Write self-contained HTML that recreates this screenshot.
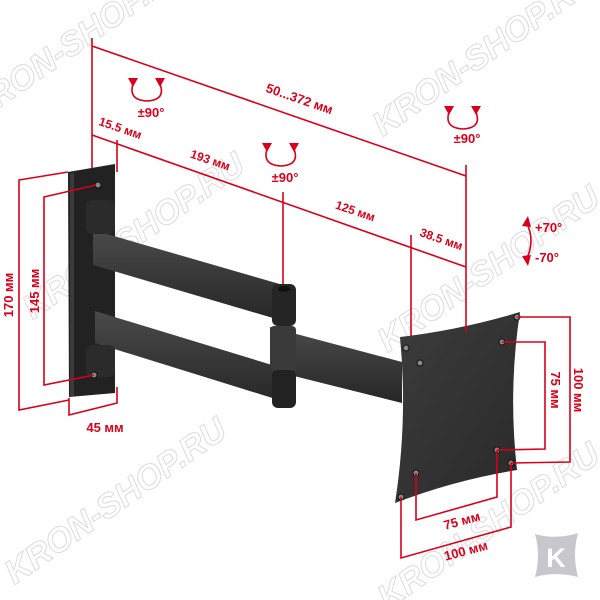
<!DOCTYPE html>
<html><head><meta charset="utf-8"><style>
html,body{margin:0;padding:0;background:#fff;}
svg{display:block;}
.r{fill:#d8001a;font-family:"Liberation Sans",sans-serif;font-weight:bold;font-size:13px;}
.w{fill:#fff;stroke:#dcdcdc;stroke-width:1;font-family:"Liberation Sans",sans-serif;font-style:italic;font-weight:bold;font-size:34px;}
</style></head><body>
<svg width="600" height="600" viewBox="0 0 600 600" xmlns="http://www.w3.org/2000/svg">
<defs>
<linearGradient id="ag" x1="0" y1="0" x2="0" y2="1"><stop offset="0" stop-color="#4a4a4a"/><stop offset="1" stop-color="#262626"/></linearGradient>
<linearGradient id="pg" x1="0" y1="0" x2="1" y2="1"><stop offset="0" stop-color="#3c3c3c"/><stop offset="1" stop-color="#2a2a2a"/></linearGradient>
</defs>
<text class="w" transform="translate(85,48) rotate(-35)" text-anchor="middle">KRON-SHOP.RU</text>
<text class="w" transform="translate(140,245) rotate(-35)" text-anchor="middle">KRON-SHOP.RU</text>
<text class="w" transform="translate(490,62) rotate(-35)" text-anchor="middle">KRON-SHOP.RU</text>
<text class="w" transform="translate(122,510) rotate(-35)" text-anchor="middle">KRON-SHOP.RU</text>
<text class="w" transform="translate(495,535) rotate(-35)" text-anchor="middle">KRON-SHOP.RU</text>
<text class="w" transform="translate(495,278) rotate(-35)" text-anchor="middle">KRON-SHOP.RU</text>

<polygon points="68,172 115,164 115,393 69,397" fill="#222"/>
<polygon points="70,174 74,173 74,396 70,396" fill="#3a3a3a"/>
<polygon points="93,230 290,287 290,323 93,265" fill="url(#ag)"/>
<rect x="86" y="200" width="29" height="34" rx="6" fill="#2b2b2b"/>
<rect x="272" y="284" width="24" height="42" rx="6" fill="#252525"/>
<ellipse cx="284" cy="289" rx="6" ry="3" fill="#111"/>
<polygon points="270,327 402,362 402,403 270,370" fill="url(#ag)"/>
<polygon points="95,311 295,372 295,405 95,343" fill="url(#ag)"/>
<rect x="86" y="345" width="29" height="32" rx="6" fill="#2b2b2b"/>
<rect x="272" y="370" width="24" height="38" rx="6" fill="#222"/>
<rect x="270" y="326" width="26" height="44" rx="4" fill="#3a3a3a"/>
<path d="M400,337 Q460,330 520,312 Q508,390 517,470 Q455,480 395,503 Q408,420 400,337 Z" fill="url(#pg)"/>
<g fill="#888" stroke="#111" stroke-width="1">
<circle cx="406" cy="348" r="3"/><circle cx="420" cy="363" r="3"/><circle cx="517" cy="317" r="3"/><circle cx="502" cy="342" r="3"/>
<circle cx="497" cy="450" r="3"/><circle cx="511" cy="463" r="3"/><circle cx="416" cy="473" r="3"/><circle cx="401" cy="497" r="3"/>
<circle cx="98" cy="185" r="3"/><circle cx="94" cy="375" r="3"/>
</g>

<g stroke="#d8001a" stroke-width="1.6" fill="none">
<line x1="92" y1="38" x2="92" y2="168"/>
<line x1="92" y1="46" x2="466" y2="176"/>
<line x1="92" y1="135" x2="466" y2="267"/>
<line x1="466" y1="165" x2="466" y2="332"/>
<line x1="117" y1="140" x2="117" y2="172"/>
<line x1="283" y1="192" x2="283" y2="284"/>
<line x1="411" y1="235" x2="411" y2="336"/>
<polyline points="68,172 19,180 19,410 69,400"/>
<polyline points="96,185 44,197 44,385 94,375"/>
<polyline points="69,398 69,415 117,403 117,387"/>
<polyline points="517,317 570,317 570,462 511,463"/>
<polyline points="502,342 545,342 545,449 497,450"/>
<polyline points="416,473 416,520 497,497 497,450"/>
<polyline points="401,497 401,558 511,527 511,463"/>
<path d="M133,84 Q128,100 147,101 Q166,100 160,84"/>
<path d="M267,149 Q262,165 281,166 Q300,165 294,149"/>
<path d="M449,112 Q444,128 463,129 Q482,128 476,112"/>
<path d="M526,222 Q536,240 526,260"/>
</g>
<g fill="#d8001a">
<polygon points="128,78 138,78 133,87"/><polygon points="155,78 165,78 160,87"/>
<polygon points="262,143 272,143 267,152"/><polygon points="289,143 299,143 294,152"/>
<polygon points="444,106 454,106 449,115"/><polygon points="471,106 481,106 476,115"/>
<polygon points="522,226 528,216 531,227"/><polygon points="522,256 528,266 531,255"/>
</g>

<text class="r" transform="translate(298,103) rotate(19)" text-anchor="middle">50...372 мм</text>
<text class="r" transform="translate(119,132) rotate(19)" text-anchor="middle" style="font-size:12px">15.5 мм</text>
<text class="r" transform="translate(209,164) rotate(19)" text-anchor="middle" style="font-size:12px">193 мм</text>
<text class="r" transform="translate(354,215) rotate(19)" text-anchor="middle" style="font-size:12px">125 мм</text>
<text class="r" transform="translate(440,243) rotate(19)" text-anchor="middle" style="font-size:12px">38.5 мм</text>
<text class="r" x="151" y="117" text-anchor="middle">±90°</text>
<text class="r" x="285" y="182" text-anchor="middle">±90°</text>
<text class="r" x="467" y="143" text-anchor="middle">±90°</text>
<text class="r" x="535" y="232">+70°</text>
<text class="r" x="535" y="262">-70°</text>
<text class="r" transform="translate(13,295) rotate(-90)" text-anchor="middle">170 мм</text>
<text class="r" transform="translate(39,291) rotate(-90)" text-anchor="middle">145 мм</text>
<text class="r" x="105" y="432" text-anchor="middle">45 мм</text>
<text class="r" transform="translate(574,390) rotate(90)" text-anchor="middle">100 мм</text>
<text class="r" transform="translate(551,390) rotate(90)" text-anchor="middle">75 мм</text>
<text class="r" transform="translate(463,525) rotate(-15)" text-anchor="middle">75 мм</text>
<text class="r" transform="translate(467,555) rotate(-15)" text-anchor="middle">100 мм</text>

<path d="M535,534 Q556,540 578,533 Q572,555 578,577 Q556,571 535,577 Q541,555 535,534 Z" fill="#c8c8cc"/>
<text x="556" y="567" text-anchor="middle" style="font-family:'Liberation Sans',sans-serif;font-weight:bold;font-size:27px;fill:#fff">K</text>
</svg>
</body></html>
